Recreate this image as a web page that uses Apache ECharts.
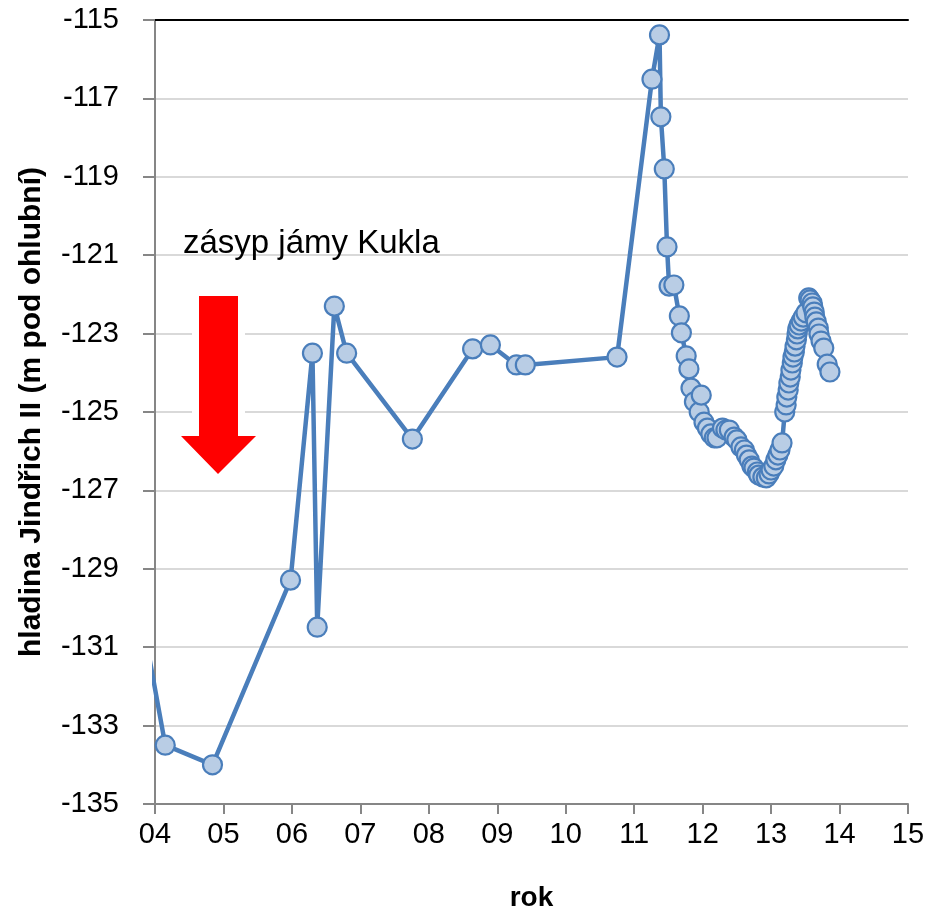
<!DOCTYPE html>
<html>
<head>
<meta charset="utf-8">
<script src="https://cdn.jsdelivr.net/npm/echarts@6/dist/echarts.min.js"></script>
<style>html,body{margin:0;padding:0;background:#fff}#c{width:930px;height:919px}</style>
</head>
<body>
<div id="c"></div>
<script>
// Data (decimal year since 2000, water level in m)
const years = [3.75, 4.15, 4.84, 5.98, 6.30, 6.37, 6.62, 6.80, 7.76, 8.64, 8.90, 9.28, 9.41, 10.75,
  11.26, 11.37, 11.39, 11.44, 11.48,
  11.51, 11.58, 11.66, 11.69, 11.76, 11.80, 11.83, 11.88, 11.95, 11.98,
  12.02, 12.07, 12.12, 12.17, 12.21, 12.29, 12.34, 12.39, 12.46, 12.50,
  12.56, 12.61, 12.64, 12.68, 12.72, 12.75, 12.80, 12.82, 12.88, 12.93,
  12.97, 13.00, 13.04, 13.07, 13.10, 13.13, 13.16, 13.20, 13.22, 13.23,
  13.25, 13.26, 13.28, 13.29, 13.31, 13.32, 13.34, 13.35, 13.37, 13.38,
  13.39, 13.41, 13.44, 13.47, 13.51, 13.55, 13.57, 13.60, 13.61, 13.63,
  13.64, 13.66, 13.69, 13.70, 13.73, 13.77, 13.82, 13.86];
const levels = [-129.66, -133.5, -134.0, -129.29, -123.5, -130.49, -122.3, -123.5, -125.69, -123.39, -123.29, -123.8, -123.8, -123.6,
  -116.51, -115.38, -117.47, -118.80, -120.79,
  -121.79, -121.76, -122.55, -122.98, -123.57, -123.90, -124.39, -124.74, -125.00, -124.57,
  -125.26, -125.41, -125.56, -125.66, -125.66, -125.41, -125.46, -125.46, -125.64, -125.71,
  -125.89, -125.97, -126.10, -126.22, -126.38, -126.43, -126.53, -126.61, -126.66, -126.68,
  -126.58, -126.48, -126.38, -126.22, -126.10, -125.97, -125.79, -125.00, -124.82, -124.62,
  -124.44, -124.26, -124.11, -123.93, -123.75, -123.60, -123.47, -123.32, -123.16, -123.01,
  -122.88, -122.78, -122.68, -122.58, -122.47, -122.09, -122.14, -122.22, -122.32, -122.45,
  -122.58, -122.70, -122.86, -123.01, -123.19, -123.37, -123.78, -123.98];
const xTickLabels = ['04','05','06','07','08','09','10','11','12','13','14','15'];
const annotation = 'zásyp jámy Kukla';
const xName = 'rok';
const yName = 'hladina Jindřich II (m pod ohlubní)';

const chart = echarts.init(document.getElementById('c'), null, {renderer: 'canvas'});
const font = 'Liberation Sans';
const option = {
  animation: false,
  backgroundColor: '#fff',
  grid: {left: 155, right: 22, top: 20, bottom: 115, outerBoundsMode: 'none', containLabel: false},
  xAxis: [{
    type: 'value', min: 4, max: 15, interval: 1,
    axisLine: {show: true, lineStyle: {color: '#868686', width: 2}},
    axisTick: {show: true, length: 10, lineStyle: {color: '#868686', width: 2}},
    splitLine: {show: false},
    axisLabel: {fontFamily: font, fontSize: 29, color: '#000', margin: 16,
      formatter: v => xTickLabels[Math.round(v) - 4]},
    name: xName, nameLocation: 'middle', nameGap: 80,
    nameTextStyle: {fontFamily: font, fontSize: 28, fontWeight: 'bold', color: '#000'}
  }, {
    type: 'value', min: 4, max: 15, position: 'top',
    axisLine: {show: true, lineStyle: {color: '#000', width: 2}},
    axisTick: {show: false}, axisLabel: {show: false}, splitLine: {show: false}
  }],
  yAxis: {
    type: 'value', min: -135, max: -115, interval: 2,
    axisLine: {show: true, lineStyle: {color: '#868686', width: 2}},
    axisTick: {show: true, length: 12, lineStyle: {color: '#868686', width: 2}},
    splitLine: {show: true, lineStyle: {color: '#d9d9d9', width: 2}},
    axisLabel: {fontFamily: font, fontSize: 29, color: '#000', margin: 36},
    name: yName, nameLocation: 'middle', nameGap: 108, nameRotate: 90,
    nameTextStyle: {fontFamily: font, fontSize: 30, fontWeight: 'bold', color: '#000'}
  },
  graphic: [
    {type: 'polygon', z: 5, shape: {points: [[199,296],[238,296],[238,436],[256,436],[218,474],[181,436],[199,436]]},
      style: {fill: '#fff', stroke: '#fff', lineWidth: 14}},
    {type: 'polygon', z: 6, shape: {points: [[199,296],[238,296],[238,436],[256,436],[218,474],[181,436],[199,436]]},
      style: {fill: '#ff0000'}},
    {type: 'text', z: 6, style: {x: 183, y: 244, text: annotation, font: '33px "Liberation Sans"', fill: '#000', verticalAlign: 'middle'}}
  ],
  series: [{
    type: 'line', z: 10, clip: true,
    data: years.map((y, i) => [y, levels[i]]),
    symbol: 'circle', symbolSize: 19, showAllSymbol: true,
    lineStyle: {color: '#4a7ebb', width: 4.5},
    itemStyle: {color: '#b9cde5', borderColor: '#4a7ebb', borderWidth: 2.2}
  }]
};
chart.setOption(option);
</script>
</body>
</html>
